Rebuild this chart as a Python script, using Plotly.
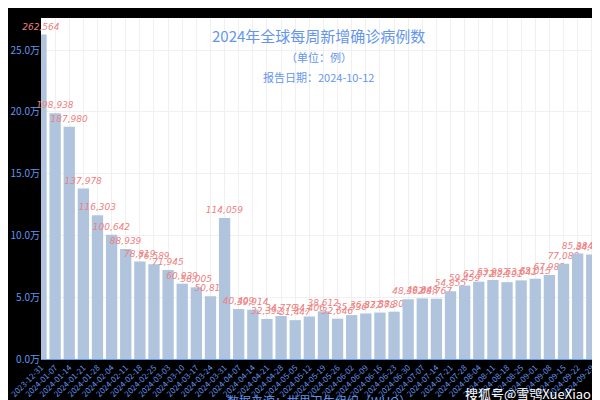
import plotly.graph_objects as go
import pandas as pd

dates = [d.strftime("%Y-%m-%d") for d in pd.date_range("2023-12-31", "2024-09-29", freq="7D")]
cases = [262564, 198938, 187980, 137978, 116303, 100642, 88939, 78819, 76589, 71945,
         60939, 58005, 50817, 114059, 40409, 39914, 32392, 34779, 31447, 34406,
         38612, 32646, 35536, 36837, 37578, 38306, 48362, 49048, 48767, 54855,
         59459, 62572, 63982, 62191, 63641, 65015, 67983, 77088, 85384, 84486]
y_ticks = [0, 50000, 100000, 150000, 200000, 250000]
y_labels = ["0.0万", "5.0万", "10.0万", "15.0万", "20.0万", "25.0万"]

blue = "#6495ED"
font = "Noto Sans CJK SC"
fig = go.Figure(go.Bar(
    x=list(range(len(dates))), y=cases,
    marker=dict(color="#B0C4DE", line=dict(width=0)), width=0.8,
    text=[f"{v:,}" for v in cases], textposition="outside", cliponaxis=False,
    constraintext="none",
    textfont=dict(color="#F08080", size=9, family="DejaVu Sans", style="italic"),
))
fig.update_layout(
    width=600, height=400, paper_bgcolor="black", plot_bgcolor="white",
    margin=dict(l=33, r=12, t=10, b=49, autoexpand=False), showlegend=False,
    font=dict(family=font, color=blue),
    annotations=[
        dict(text="2024年全球每周新增确诊病例数", x=0.5, y=0.985, xref="paper", yref="paper",
             showarrow=False, font=dict(size=15, color=blue), xanchor="center", yanchor="top"),
        dict(text="（单位：例）", x=0.5, y=0.915, xref="paper", yref="paper",
             showarrow=False, font=dict(size=11, color=blue), xanchor="center", yanchor="top"),
        dict(text="报告日期：2024-10-12", x=0.5, y=0.855, xref="paper", yref="paper",
             showarrow=False, font=dict(size=11, color=blue), xanchor="center", yanchor="top"),
        dict(text="数据来源：世界卫生组织（WHO）", x=0.5, y=-0.123, xref="paper", yref="paper",
             showarrow=False, font=dict(size=12, color=blue), xanchor="center", yanchor="middle"),
        dict(text="搜狐号@雪鸮XueXiao", x=0.995, y=-0.1, xref="paper", yref="paper",
             showarrow=False, font=dict(size=13, color="white"), xanchor="right", yanchor="middle"),
    ],
)
fig.update_xaxes(tickmode="array", tickvals=list(range(len(dates))), ticktext=dates,
                 tickangle=-45, tickfont=dict(size=8, color=blue), range=[0, 39.3],
                 showgrid=True, gridcolor="#F0F0F0", zeroline=False, automargin=False,
                 showline=True, linecolor="#6495ED")
fig.update_yaxes(tickmode="array", tickvals=y_ticks, ticktext=y_labels, range=[0, 276000],
                 tickfont=dict(size=10, color=blue), showgrid=True, gridcolor="#F0F0F0",
                 zeroline=False, automargin=False)
fig.write_html("out.html")
